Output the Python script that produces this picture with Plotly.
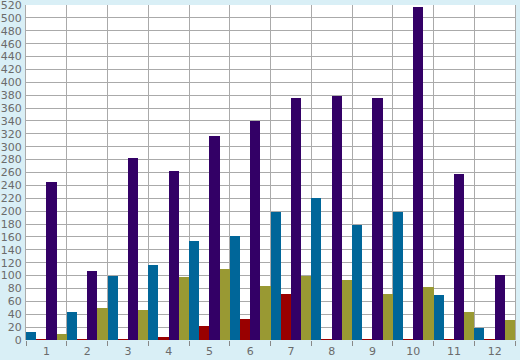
import plotly.graph_objects as go

categories = [1, 2, 3, 4, 5, 6, 7, 8, 9, 10, 11, 12]
tick_labels = ["1", "2", "3", "4", "5", "6", "7", "8", "9", "10", "11", "12"]
series_teal = [12, 43, 99, 117, 153, 162, 198, 220, 178, 199, 70, 18]
series_red = [1, 1, 1, 5, 22, 33, 71, 1, 1, 1, 1, 1]
series_purple = [246, 107, 282, 263, 316, 340, 375, 378, 375, 517, 257, 101]
series_olive = [9, 50, 46, 98, 110, 84, 100, 93, 71, 82, 43, 31]

colors = ["#006699", "#990000", "#330066", "#999933"]
names = ["A", "B", "C", "D"]

fig = go.Figure()
for name, vals, col in zip(names, [series_teal, series_red, series_purple, series_olive], colors):
    fig.add_trace(go.Bar(x=categories, y=vals, name=name, marker=dict(color=col, line=dict(width=0))))

grid = "#aaaaaa"
font_col = "#6b6b6b"
fig.update_layout(
    width=520, height=360,
    margin=dict(l=26, r=5, t=5, b=20, autoexpand=False),
    paper_bgcolor="#d9eff6",
    plot_bgcolor="#ffffff",
    barmode="group", bargap=0, bargroupgap=0,
    showlegend=False,
    font=dict(family="DejaVu Sans", size=11, color=font_col),
    xaxis=dict(
        range=[0.5, 12.5], tickmode="array", tickvals=categories, ticktext=tick_labels,
        showgrid=False, zeroline=False, ticks="", showline=False, automargin=False,
        tickfont=dict(size=11, color=font_col), ticklabelstandoff=3,
        minor=dict(tickmode="linear", tick0=0.5, dtick=1, showgrid=True, gridcolor=grid,
                   gridwidth=1, ticks="outside", ticklen=5, tickcolor="#888888"),
    ),
    yaxis=dict(
        range=[0, 520], dtick=20, tick0=0, showgrid=True, gridcolor=grid, gridwidth=1,
        zeroline=False, ticks="", showline=True, linecolor=grid, mirror=True, automargin=False,
        tickfont=dict(size=11, color=font_col), ticklabelstandoff=1, ticklabeloverflow="allow",
    ),
)
fig.write_html("out.html", config={"displayModeBar": False},
               post_script="document.body.style.margin='0';document.body.style.overflow='hidden';")
